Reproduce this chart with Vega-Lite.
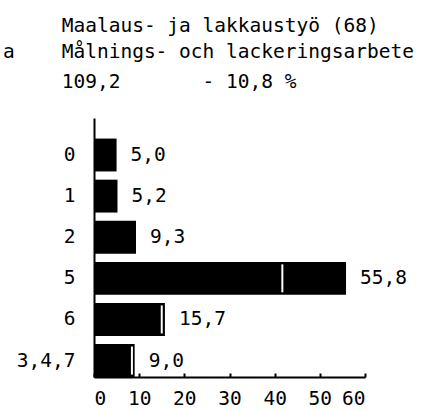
{
  "$schema": "https://vega.github.io/schema/vega-lite/v6.json",
  "width": 271,
  "height": 259,
  "autosize": "none",
  "padding": {"left": 94, "top": 118, "right": 58, "bottom": 33},
  "background": "white",
  "title": {
    "text": ["\u200b\u00a0\u00a0\u00a0\u00a0\u00a0Maalaus- ja lakkaustyö (68)", "a\u00a0\u00a0\u00a0\u00a0Målnings- och lackeringsarbete"],
    "subtitle": "\u200b\u00a0\u00a0\u00a0\u00a0\u00a0109,2\u00a0\u00a0\u00a0\u00a0\u00a0\u00a0\u00a0-\u00a010,8\u00a0%",
    "anchor": "start",
    "frame": "group",
    "dx": -91,
    "offset": 26,
    "font": "DejaVu Sans Mono",
    "fontSize": 19.5,
    "fontWeight": "normal",
    "color": "black",
    "lineHeight": 26,
    "subtitleFont": "DejaVu Sans Mono",
    "subtitleFontSize": 19.5,
    "subtitleColor": "black",
    "subtitlePadding": 10
  },
  "data": {
    "values": [
      {"cat": "0", "value": 5.0, "label": "5,0", "marker": null},
      {"cat": "1", "value": 5.2, "label": "5,2", "marker": null},
      {"cat": "2", "value": 9.3, "label": "9,3", "marker": null},
      {"cat": "5", "value": 55.8, "label": "55,8", "marker": 41.7},
      {"cat": "6", "value": 15.7, "label": "15,7", "marker": 15.0},
      {"cat": "3,4,7", "value": 9.0, "label": "9,0", "marker": 8.4}
    ]
  },
  "encoding": {
    "y": {
      "field": "cat",
      "type": "nominal",
      "sort": null,
      "scale": {"paddingInner": 0.2, "paddingOuter": 0.25, "align": 1},
      "axis": {
        "title": null,
        "ticks": false,
        "domainColor": "black",
        "domainWidth": 2,
        "labelPadding": 19,
        "labelFont": "DejaVu Sans Mono",
        "labelFontSize": 19.5,
        "labelColor": "black"
      }
    }
  },
  "layer": [
    {
      "mark": {"type": "bar", "color": "black"},
      "encoding": {
        "x": {
          "field": "value",
          "type": "quantitative",
          "scale": {"domain": [0, 60], "nice": false},
          "axis": {
            "title": null,
            "values": [0, 10, 20, 30, 40, 50, 60],
            "grid": false,
            "domainColor": "black",
            "domainWidth": 2,
            "tickColor": "black",
            "tickWidth": 2,
            "tickSize": -4,
            "labelPadding": 16,
            "labelFont": "DejaVu Sans Mono",
            "labelFontSize": 19.5,
            "labelColor": "black"
          }
        }
      }
    },
    {
      "mark": {"type": "tick", "color": "white", "thickness": 2, "size": 28, "orient": "vertical", "opacity": 1},
      "encoding": {"x": {"field": "marker", "type": "quantitative"}}
    },
    {
      "mark": {"type": "text", "align": "left", "baseline": "middle", "dx": 14, "font": "DejaVu Sans Mono", "fontSize": 19.5, "color": "black"},
      "encoding": {
        "x": {"field": "value", "type": "quantitative"},
        "text": {"field": "label"}
      }
    }
  ],
  "config": {"view": {"stroke": null}}
}
